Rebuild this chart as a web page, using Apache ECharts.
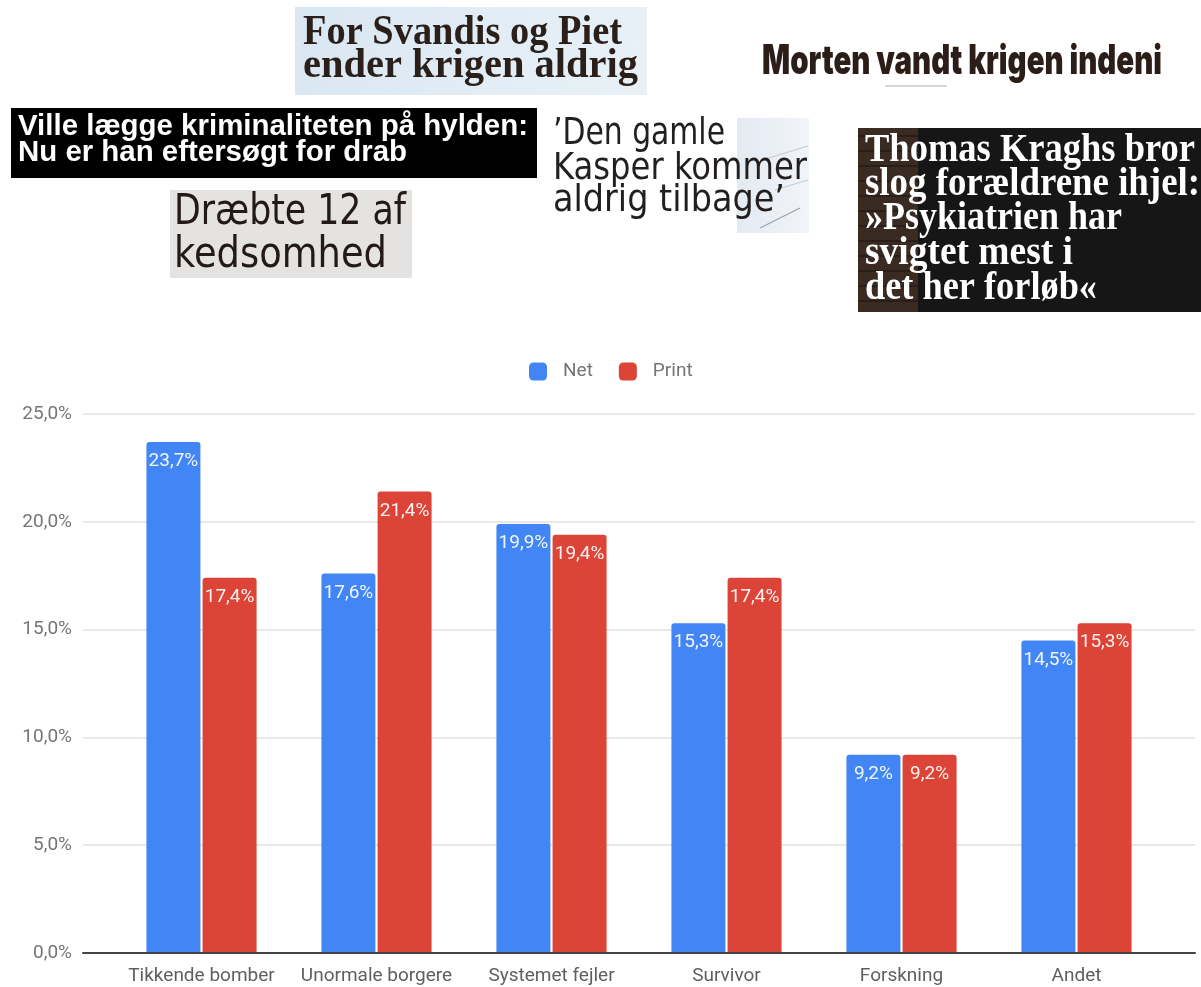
<!DOCTYPE html>
<html>
<head>
<meta charset="utf-8">
<title>Net og Print</title>
<script src="https://cdn.jsdelivr.net/npm/echarts@6/dist/echarts.min.js"></script>
<style>
  html, body { margin: 0; padding: 0; background: #fff; }
  #main { width: 1201px; height: 987px; }
</style>
</head>
<body>
<div id="main"></div>
<script>
// data
var categories = ['Tikkende bomber', 'Unormale borgere', 'Systemet fejler', 'Survivor', 'Forskning', 'Andet'];
var netValues = [23.7, 17.6, 19.9, 15.3, 9.2, 14.5];
var printValues = [17.4, 21.4, 19.4, 17.4, 9.2, 15.3];
var yTicks = [0, 5, 10, 15, 20, 25];

// overskrifter: [tekst, venstre x, grundlinje y, bredde, font, farve]
var SERIF = 'bold 42px "Liberation Serif", "DejaVu Serif", serif';
var SERIF_T = 'bold 39px "Liberation Serif", "DejaVu Serif", serif';
var HEAVY = '900 41px Inter, Lato, "DejaVu Sans Condensed", sans-serif';
var COND = '42px "DejaVu Sans Condensed", "DejaVu Sans", sans-serif';
var COND_K = '38px "DejaVu Sans Condensed", "DejaVu Sans", sans-serif';
var ARIAL_B = 'bold 29px "Liberation Sans", Arial, sans-serif';

var headlineLines = [
  ['For Svandis og Piet', 303, 47, 319, SERIF, '#2b1f1a'],
  ['ender krigen aldrig', 303, 80, 335, SERIF, '#2b1f1a'],
  ['Morten vandt krigen indeni', 762, 76, 400, HEAVY, '#2b1d17'],
  ['Ville lægge kriminaliteten på hylden:', 18, 137, 510, ARIAL_B, '#ffffff'],
  ['Nu er han eftersøgt for drab', 18, 163, 389, ARIAL_B, '#ffffff'],
  ['Dræbte 12 af', 174, 227, 232, COND, '#231a18'],
  ['kedsomhed', 174, 270, 213, COND, '#231a18'],
  ['\u2019Den gamle', 553, 147, 172, COND_K, '#231f1f'],
  ['Kasper kommer', 553, 182, 254, COND_K, '#231f1f'],
  ['aldrig tilbage\u2019', 553, 214, 232, COND_K, '#231f1f'],
  ['Thomas Kraghs bror', 865, 164, 330, SERIF_T, '#ffffff'],
  ['slog forældrene ihjel:', 865, 198, 335, SERIF_T, '#ffffff'],
  ['\u00bbPsykiatrien har', 865, 232, 257, SERIF_T, '#ffffff'],
  ['svigtet mest i', 865, 267, 208, SERIF_T, '#ffffff'],
  ['det her forløb\u00ab', 865, 302, 232, SERIF_T, '#ffffff']
];

var measureCtx = document.createElement('canvas').getContext('2d');
function textWidth(text, font) {
  measureCtx.font = font;
  return measureCtx.measureText(text).width;
}
function fontSize(font) {
  return parseFloat(font.match(/(\d+)px/)[1]);
}

function fmtPct(v) {
  return v.toFixed(1).replace('.', ',') + '%';
}

// baggrunde til udklippene
var graphics = [
  { type: 'rect', shape: { x: 295, y: 7, width: 352, height: 88 },
    style: { fill: new echarts.graphic.LinearGradient(0, 0, 1, 1, [
      { offset: 0, color: '#d9e7f2' }, { offset: 1, color: '#e9f1f7' }]) } },
  { type: 'line', shape: { x1: 885, y1: 86, x2: 947, y2: 86 }, style: { stroke: '#b0b0b0', lineWidth: 1 } },
  { type: 'rect', shape: { x: 11, y: 108, width: 526, height: 70 }, style: { fill: '#000' } },
  { type: 'rect', shape: { x: 170, y: 190, width: 242, height: 88 }, style: { fill: '#e5e3e1' } },
  { type: 'rect', shape: { x: 737, y: 118, width: 72, height: 115 },
    style: { fill: new echarts.graphic.LinearGradient(0, 0, 1, 0, [
      { offset: 0, color: '#e4eaf2' }, { offset: 1, color: '#f1f4f8' }]) } },
  { type: 'line', shape: { x1: 762, y1: 160, x2: 808, y2: 146 }, style: { stroke: '#c4cad2', lineWidth: 1 } },
  { type: 'line', shape: { x1: 775, y1: 190, x2: 808, y2: 180 }, style: { stroke: '#c4cad2', lineWidth: 1 } },
  { type: 'line', shape: { x1: 760, y1: 228, x2: 800, y2: 208 }, style: { stroke: '#9aa0a8', lineWidth: 1.2 } },
  { type: 'rect', shape: { x: 858, y: 128, width: 343, height: 184 }, style: { fill: '#161616' } },
  { type: 'rect', shape: { x: 858, y: 128, width: 60, height: 184 }, style: { fill: '#3a2b22' } }
];
for (var r = 0; r < 12; r++) {
  graphics.push({ type: 'line', shape: { x1: 858, y1: 136 + r * 15, x2: 918, y2: 136 + r * 15 },
    style: { stroke: '#2a1e18', lineWidth: 2 } });
}

headlineLines.forEach(function (h) {
  var size = fontSize(h[4]);
  var sx = h[3] / textWidth(h[0], h[4]);
  graphics.push({
    type: 'text',
    x: h[1],
    y: h[2] - 0.34 * size,
    scaleX: sx,
    z: 10,
    style: {
      text: h[0],
      x: 0,
      y: 0,
      font: h[4],
      fill: h[5],
      textAlign: 'left',
      textVerticalAlign: 'middle'
    }
  });
});

var chart = echarts.init(document.getElementById('main'), null, { renderer: 'canvas' });

var option;
option = {
  backgroundColor: '#fff',
  animation: false,
  textStyle: { fontFamily: 'Roboto, "Noto Sans", sans-serif' },
  legend: {
    data: ['Net', 'Print'],
    left: 524,
    top: 357,
    icon: 'roundRect',
    itemWidth: 18,
    itemHeight: 18,
    itemGap: 26,
    textStyle: { fontSize: 19, color: '#757575', padding: [0, 0, 0, 11] }
  },
  grid: [
    { left: 83, right: 6, top: 414, bottom: 34 },
    { left: 114, right: 37, top: 414, bottom: 34 }
  ],
  xAxis: [
    {
      gridIndex: 0, type: 'value', min: 0, max: 1, z: 5,
      axisLine: { show: true, lineStyle: { color: '#444', width: 2 } },
      axisTick: { show: false }, axisLabel: { show: false }, splitLine: { show: false }
    },
    {
      gridIndex: 1, type: 'category', data: categories,
      axisLine: { show: false }, axisTick: { show: false },
      axisLabel: { fontSize: 19, color: '#5f5f5f', margin: 14, interval: 0 }
    }
  ],
  yAxis: [
    {
      gridIndex: 0, type: 'value', min: yTicks[0], max: yTicks[yTicks.length - 1], interval: 5,
      axisLine: { show: false }, axisTick: { show: false },
      axisLabel: { fontSize: 19, color: '#757575', margin: 11, formatter: function (v) { return fmtPct(v); } },
      splitLine: { lineStyle: { color: '#e0e0e0', width: 1.5 } }
    },
    {
      gridIndex: 1, type: 'value', min: 0, max: 25, interval: 5, show: false,
      splitLine: { show: false }
    }
  ],
  series: [
    {
      name: 'Net', type: 'bar', xAxisIndex: 1, yAxisIndex: 1,
      data: netValues, barWidth: 54, barGap: '4%',
      itemStyle: { color: '#4285f4', borderRadius: [3, 3, 0, 0] },
      label: {
        show: true, position: 'insideTop', distance: 10,
        color: 'rgba(255,255,255,0.92)', fontSize: 19,
        formatter: function (p) { return fmtPct(p.value); }
      }
    },
    {
      name: 'Print', type: 'bar', xAxisIndex: 1, yAxisIndex: 1,
      data: printValues, barWidth: 54,
      itemStyle: { color: '#db4437', borderRadius: [3, 3, 0, 0] },
      label: {
        show: true, position: 'insideTop', distance: 10,
        color: 'rgba(255,255,255,0.92)', fontSize: 19,
        formatter: function (p) { return fmtPct(p.value); }
      }
    }
  ],
  graphic: graphics
};

chart.setOption(option);
</script>
</body>
</html>
